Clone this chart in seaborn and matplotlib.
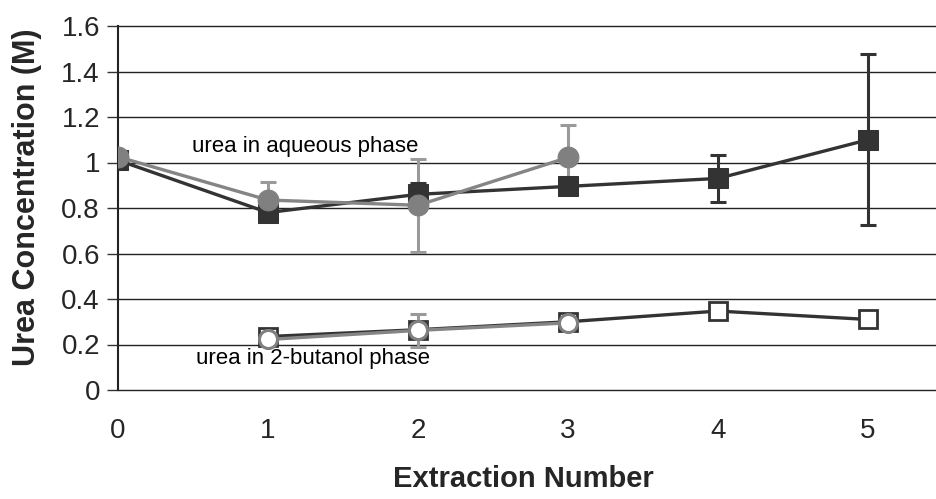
import numpy as np
import pandas as pd
import matplotlib
matplotlib.use("Agg")
import matplotlib.pyplot as plt
import seaborn as sns

# ---- data ----
extraction = [0, 1, 2, 3, 4, 5]

aq_sq_x = [0, 1, 2, 3, 4, 5]
aq_sq_y = [1.01, 0.78, 0.86, 0.895, 0.93, 1.10]
aq_sq_err = [0.0, 0.0, 0.05, 0.03, 0.105, 0.375]

aq_ci_x = [0, 1, 2, 3]
aq_ci_y = [1.025, 0.835, 0.812, 1.022]
aq_ci_err = [0.0, 0.08, 0.205, 0.145]

bu_sq_x = [1, 2, 3, 4, 5]
bu_sq_y = [0.235, 0.265, 0.30, 0.347, 0.31]
bu_sq_err = [0.0, 0.03, 0.03, 0.0, 0.0]

bu_ci_x = [1, 2, 3]
bu_ci_y = [0.222, 0.262, 0.295]
bu_ci_err = [0.0, 0.072, 0.0]

y_ticks = [0, 0.2, 0.4, 0.6, 0.8, 1.0, 1.2, 1.4, 1.6]
y_tick_labels = ["0", "0.2", "0.4", "0.6", "0.8", "1", "1.2", "1.4", "1.6"]

sns.set_theme(style="white")
plt.rcParams["font.family"] = ["Liberation Sans", "DejaVu Sans"]

fig = plt.figure(figsize=(9.37, 4.99), dpi=100)
ax = fig.add_axes([118 / 937, 1 - 390 / 499, (936 - 118) / 937, (390 - 26) / 499])

dark = "#333333"
gray = "#858585"
gray_err = "#9a9a9a"

# gridlines
for yv in y_ticks:
    ax.axhline(yv, color="#222222", lw=1.0, zorder=0, clip_on=False)

# error bars
ekw = dict(fmt="none", elinewidth=2.2, capsize=6, capthick=2.2, zorder=2)
ax.errorbar(aq_ci_x, aq_ci_y, yerr=aq_ci_err, ecolor=gray_err, **ekw)
ax.errorbar(bu_ci_x, bu_ci_y, yerr=bu_ci_err, ecolor=gray_err, **ekw)
ax.errorbar(aq_sq_x, aq_sq_y, yerr=aq_sq_err, ecolor=dark, **ekw)
ax.errorbar(bu_sq_x, bu_sq_y, yerr=bu_sq_err, ecolor=dark, **ekw)

df_aq_sq = pd.DataFrame({"x": aq_sq_x, "y": aq_sq_y})
df_aq_ci = pd.DataFrame({"x": aq_ci_x, "y": aq_ci_y})
df_bu_sq = pd.DataFrame({"x": bu_sq_x, "y": bu_sq_y})
df_bu_ci = pd.DataFrame({"x": bu_ci_x, "y": bu_ci_y})

sns.lineplot(data=df_aq_sq, x="x", y="y", ax=ax, color=dark, lw=2.4,
             marker="s", markersize=14, markerfacecolor=dark,
             markeredgecolor=dark, zorder=3)
sns.lineplot(data=df_bu_sq, x="x", y="y", ax=ax, color=dark, lw=2.4,
             marker="s", markersize=13, markerfacecolor="white",
             markeredgecolor=dark, markeredgewidth=2.0, zorder=3)
sns.lineplot(data=df_aq_ci, x="x", y="y", ax=ax, color=gray, lw=2.4,
             marker="o", markersize=15, markerfacecolor="#808080",
             markeredgecolor="#808080", zorder=4)
sns.lineplot(data=df_bu_ci, x="x", y="y", ax=ax, color=gray, lw=2.4,
             marker="o", markersize=13, markerfacecolor="white",
             markeredgecolor="#808080", markeredgewidth=2.2, zorder=4)

ax.set_xlim(0, (936 - 118) / 150)
ax.set_ylim(0, 1.6)
ax.set_xticks(extraction)
ax.set_xticklabels([str(v) for v in extraction], fontsize=20)
ax.set_yticks(y_ticks)
ax.set_yticklabels(y_tick_labels, fontsize=20)
ax.tick_params(axis="y", which="major", direction="out", length=8, width=1,
               color="#333333", pad=5, left=True)
ax.tick_params(axis="x", length=0, pad=20)

for s in ["top", "right", "bottom"]:
    ax.spines[s].set_visible(False)
ax.spines["left"].set_color("#222222")
ax.spines["left"].set_linewidth(1.5)

ax.set_xlabel("")
ax.set_ylabel("")

ax.text(1.25, 1.07, "urea in aqueous phase", fontsize=16, ha="center",
        va="center", color="black", zorder=5)
ax.text(1.30, 0.14, "urea in 2-butanol phase", fontsize=16, ha="center",
        va="center", color="black", zorder=5)

fig.text(523 / 937, 1 - 479 / 499, "Extraction Number", fontsize=21,
         fontweight="bold", ha="center", va="center")
fig.text(27 / 937, 1 - 197 / 499, "Urea Concentration (M)", fontsize=22,
         fontweight="bold", ha="center", va="center", rotation=90)

legend = ax.get_legend()
if legend:
    legend.remove()

fig.savefig("out.png", dpi=100, facecolor="white")
